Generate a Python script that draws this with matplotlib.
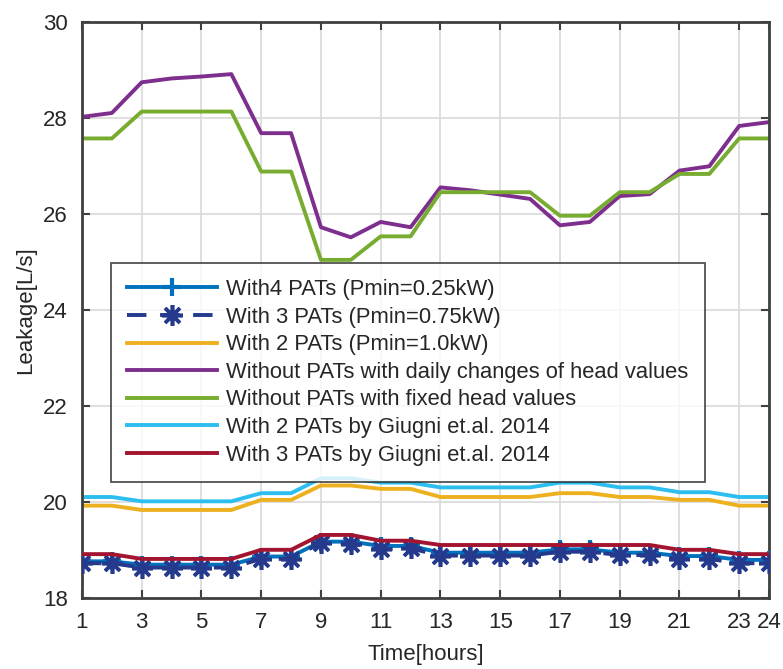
import numpy as np
import matplotlib
matplotlib.use("Agg")
import matplotlib.pyplot as plt

plt.rcParams['font.family'] = ['Liberation Sans', 'DejaVu Sans']

hours = np.arange(1, 25)

pat4 = [18.77, 18.77, 18.70, 18.70, 18.70, 18.70, 18.87, 18.87, 19.18, 19.18, 19.09, 19.09,
        18.95, 18.95, 18.95, 18.95, 19.02, 19.02, 18.95, 18.95, 18.88, 18.88, 18.80, 18.80]
pat3 = [18.73, 18.73, 18.64, 18.64, 18.64, 18.64, 18.82, 18.82, 19.16, 19.14, 19.02, 19.04,
        18.89, 18.89, 18.89, 18.89, 18.97, 18.97, 18.90, 18.90, 18.82, 18.82, 18.73, 18.73]
pat2 = [19.93, 19.93, 19.84, 19.84, 19.84, 19.84, 20.05, 20.05, 20.35, 20.35, 20.28, 20.28,
        20.11, 20.11, 20.11, 20.11, 20.19, 20.19, 20.11, 20.11, 20.05, 20.05, 19.93, 19.93]
no_pat_daily = [28.03, 28.11, 28.75, 28.83, 28.87, 28.92, 27.69, 27.69, 25.73, 25.52, 25.84, 25.73,
                26.56, 26.50, 26.41, 26.32, 25.77, 25.84, 26.38, 26.42, 26.91, 27.00, 27.84, 27.92]
no_pat_fixed = [27.58, 27.58, 28.14, 28.14, 28.14, 28.14, 26.89, 26.89, 25.05, 25.05, 25.54, 25.54,
                26.46, 26.46, 26.46, 26.46, 25.97, 25.97, 26.46, 26.46, 26.84, 26.84, 27.58, 27.58]
giugni2 = [20.11, 20.11, 20.02, 20.02, 20.02, 20.02, 20.19, 20.19, 20.50, 20.50, 20.41, 20.41,
           20.31, 20.31, 20.31, 20.31, 20.41, 20.41, 20.31, 20.31, 20.21, 20.21, 20.11, 20.11]
giugni3 = [18.92, 18.92, 18.82, 18.82, 18.82, 18.82, 19.01, 19.01, 19.32, 19.32, 19.20, 19.20,
           19.11, 19.11, 19.11, 19.11, 19.11, 19.11, 19.11, 19.11, 19.01, 19.01, 18.92, 18.92]

labels = ['With4 PATs (Pmin=0.25kW)', 'With 3 PATs (Pmin=0.75kW)', 'With 2 PATs (Pmin=1.0kW)',
          'Without PATs with daily changes of head values', 'Without PATs with fixed head values',
          'With 2 PATs by Giugni et.al. 2014', 'With 3 PATs by Giugni et.al. 2014']
xticks = [1, 3, 5, 7, 9, 11, 13, 15, 17, 19, 21, 23, 24]
yticks = [18, 20, 22, 24, 26, 28, 30]

fig = plt.figure(figsize=(7.83, 6.69), dpi=100)
ax = fig.add_axes([0.1047, 0.1057, 0.8775, 0.8610])

lw = 2.8
asterisk = (8, 2, 0)
ax.plot(hours, pat4, color='#0072BD', lw=lw, marker='+', ms=13, mew=3, label=labels[0], zorder=3)
ax.plot(hours, pat3, color='#253A8C', lw=lw, ls=(0, (5, 3.5)), marker=asterisk, ms=15, mew=2.6,
        label=labels[1], zorder=4)
ax.plot(hours, pat2, color='#EDB120', lw=lw, label=labels[2])
ax.plot(hours, no_pat_daily, color='#7E2F8E', lw=lw, label=labels[3])
ax.plot(hours, no_pat_fixed, color='#77AC30', lw=lw, label=labels[4])
ax.plot(hours, giugni2, color='#2DBEF0', lw=lw, label=labels[5])
ax.plot(hours, giugni3, color='#A2142F', lw=lw, label=labels[6], zorder=5)

ax.set_xlim(1, 24)
ax.set_ylim(18, 30)
ax.set_xticks(xticks)
ax.set_yticks(yticks)
ax.grid(True, color='#DCDCDC', lw=1.3)
ax.set_axisbelow(True)
ax.tick_params(direction='in', length=6, width=1.5, color='#404040', labelsize=16,
               labelcolor='#262626', top=True, right=True, pad=10)
for s in ax.spines.values():
    s.set_color('#404040')
    s.set_linewidth(2)

ax.set_xlabel('Time[hours]', fontsize=16, color='#262626', labelpad=8)
ax.set_ylabel('Leakage[L/s]', fontsize=16, color='#262626', labelpad=5)

leg = ax.legend(loc='upper left', bbox_to_anchor=(0.0418, 0.5827), fontsize=15.8, frameon=True,
                fancybox=False, edgecolor='#262626', handlelength=4.1, labelspacing=0.3,
                borderpad=0.75, handletextpad=0.4, borderaxespad=0)
leg.get_frame().set_linewidth(1.3)
for t in leg.get_texts():
    t.set_color('#262626')

fig.savefig('out.png', dpi=100)
